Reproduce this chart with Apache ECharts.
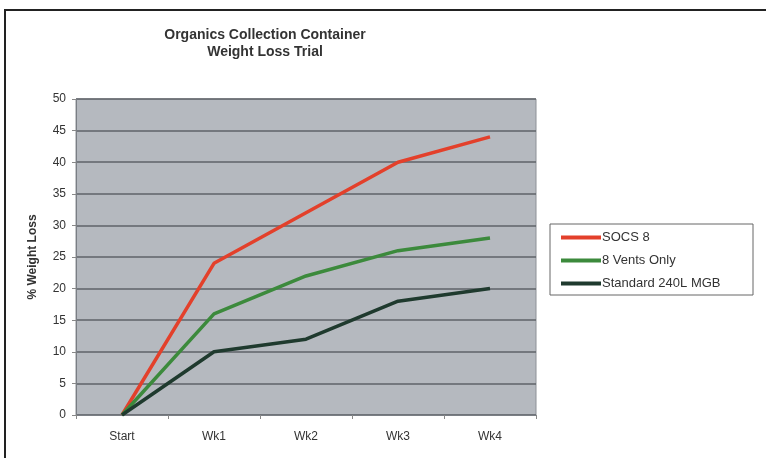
<!DOCTYPE html>
<html>
<head>
<meta charset="utf-8">
<script src="https://cdn.jsdelivr.net/npm/echarts@6/dist/echarts.min.js"></script>
<style>
  html, body { margin: 0; padding: 0; background: #fff; }
</style>
</head>
<body>
<div id="chart" style="width:766px;height:458px"></div>
<script>
var categories = ['Start', 'Wk1', 'Wk2', 'Wk3', 'Wk4'];
var socs8 = [0, 24, 32, 40, 44];
var ventsOnly = [0, 16, 22, 26, 28];
var standard = [0, 10, 12, 18, 20];

var myChart = echarts.init(document.getElementById('chart'));

function line(name, data, color) {
    return {
        name: name,
        type: 'line',
        data: data,
        symbol: 'none',
        lineStyle: { color: color, width: 3.5 },
        itemStyle: { color: color }
    };
}

var option = {
    backgroundColor: '#fff',
    animation: false,
    textStyle: { fontFamily: 'Liberation Sans, Arial, sans-serif' },
    title: {
        text: 'Organics Collection Container\nWeight Loss Trial',
        left: 260,
        top: 22,
        textAlign: 'center',
        textStyle: { fontSize: 14, fontWeight: 'bold', color: '#333', lineHeight: 17 }
    },
    graphic: [{
        type: 'rect',
        shape: { x: 5, y: 10, width: 780, height: 470 },
        style: { fill: 'none', stroke: '#222', lineWidth: 2 },
        z: 100
    }, {
        type: 'rect',
        shape: { x: 550, y: 224, width: 203, height: 71 },
        style: { fill: 'none', stroke: '#666', lineWidth: 1 },
        z: 100
    }],
    legend: {
        orient: 'vertical',
        left: 556,
        top: 226,
        itemWidth: 40,
        itemHeight: 4,
        itemGap: 10,
        icon: 'rect',
        textStyle: { fontSize: 13, color: '#333', padding: [0, 0, 0, -4] },
        data: ['SOCS 8', '8 Vents Only', 'Standard 240L MGB']
    },
    grid: {
        left: 76,
        right: 230,
        top: 99,
        bottom: 43,
        show: true,
        backgroundColor: '#b5b9bf',
        borderColor: '#8c9096',
        borderWidth: 1
    },
    xAxis: {
        type: 'category',
        data: categories,
        boundaryGap: true,
        axisLine: { show: true, lineStyle: { color: '#7a7e84' } },
        axisTick: { show: true, length: 4, lineStyle: { color: '#888' } },
        axisLabel: { color: '#333', fontSize: 12, margin: 16 }
    },
    yAxis: {
        type: 'value',
        min: 0,
        max: 50,
        interval: 5,
        name: '% Weight Loss',
        nameLocation: 'middle',
        nameGap: 37,
        nameTextStyle: { fontSize: 12, fontWeight: 'bold', color: '#333' },
        axisLine: { show: true, lineStyle: { color: '#7a7e84' } },
        axisTick: { show: true, length: 4, lineStyle: { color: '#888' } },
        axisLabel: { color: '#333', fontSize: 12, margin: 10 },
        splitLine: { show: true, lineStyle: { color: '#5f6368', width: 1.5 } }
    },
    series: [
        line('SOCS 8', socs8, '#e3402b'),
        line('8 Vents Only', ventsOnly, '#3c8a3c'),
        line('Standard 240L MGB', standard, '#1f3a2e')
    ]
};

myChart.setOption(option);
</script>
</body>
</html>
